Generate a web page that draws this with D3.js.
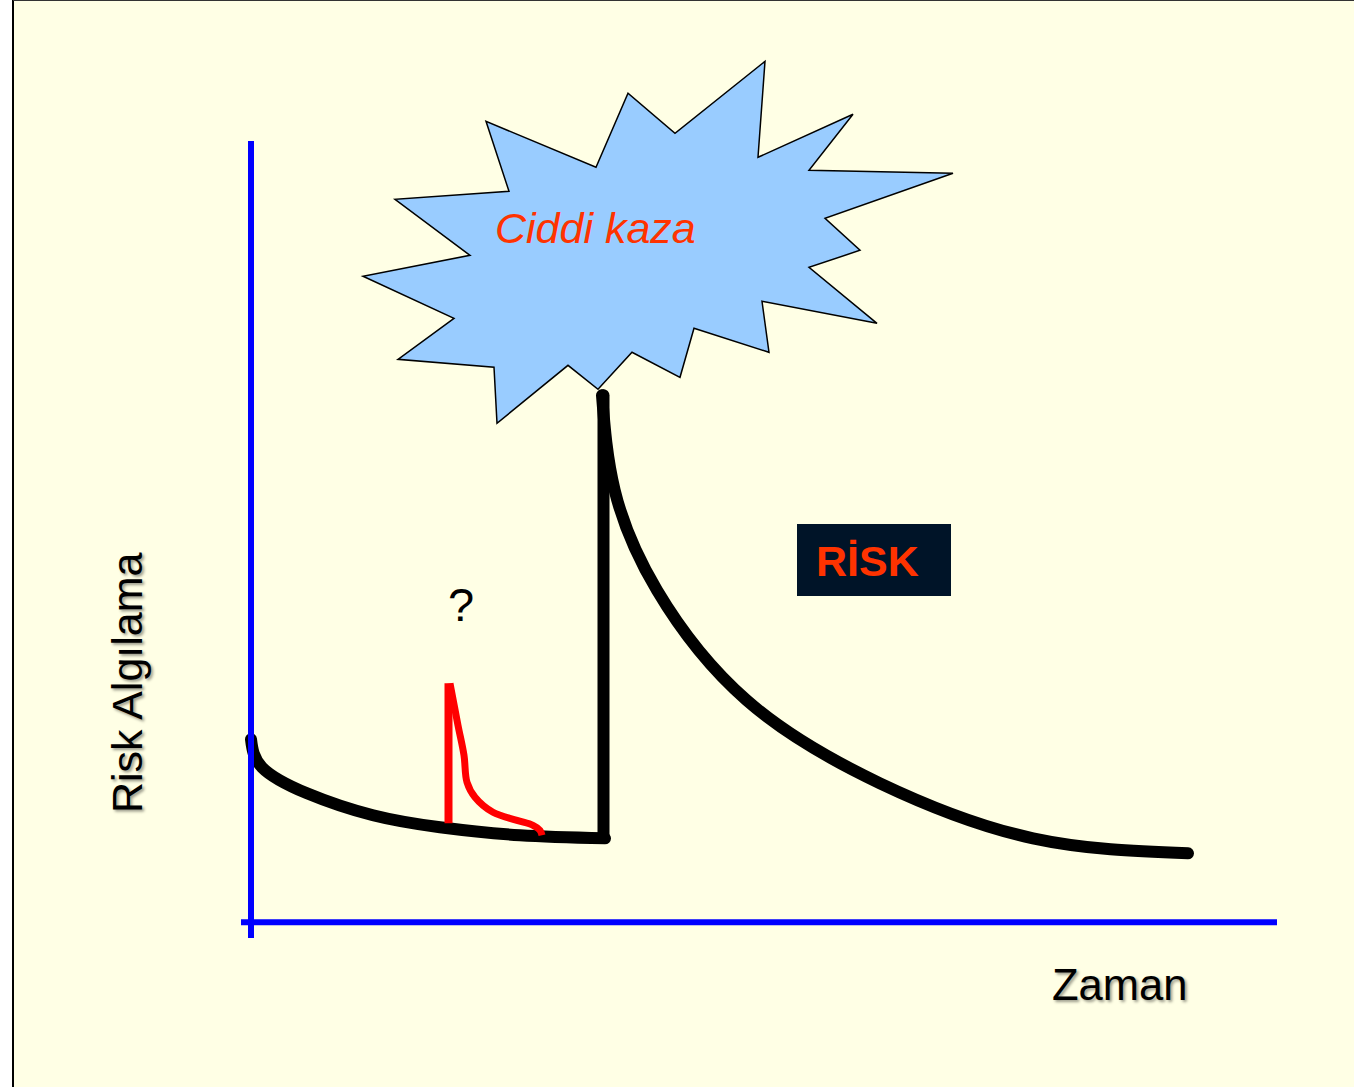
<!DOCTYPE html>
<html>
<head>
<meta charset="utf-8">
<script src="https://cdn.jsdelivr.net/npm/d3@7"></script>
<style>
  html, body { margin: 0; padding: 0; background: #fff; overflow: hidden; }
  text { font-family: "Liberation Sans", Arial, sans-serif; }
</style>
</head>
<body>
<svg id="chart" width="1354" height="1087"></svg>
<script>
// time / risk units (no numeric axis in the original)
const beforeCurve = [[0, 18.3], [1.1, 15.5], [5.6, 12.9], [12.2, 10.7], [18.9, 9.5], [26.9, 8.7], [35.4, 8.4]];
const spikeLine = [[35.25, 8.5], [35.25, 52.7]];
const afterCurve = [[35.1, 52.7], [36.37, 43.2], [40.6, 33.2], [49.57, 22.2], [62.9, 13.9], [78.2, 8.4], [93.7, 6.9]];
const smallRise = [[19.75, 9.9], [19.75, 23.9]];
const smallFall = [[19.9, 23.9], [20.7, 19.7], [21.3, 16.7], [21.6, 14], [22.4, 12.5], [24.2, 11],
  [26.6, 10.2], [28.2, 9.7], [28.9, 9.2], [29.1, 8.7]];
const burst = [[51.4, 86.1], [50.7, 76.5], [60.2, 80.8], [55.8, 75.2], [70.2, 74.9], [57.4, 70.4],
  [60.9, 67.2], [55.8, 65.5], [62.6, 59.9], [51.1, 62.1], [51.8, 57], [44.3, 59.4], [42.9, 54.5],
  [38.1, 57], [34.7, 53.3], [31.7, 55.7], [24.6, 49.9], [24.3, 55.5], [14.7, 56.3], [20.3, 60.4],
  [11.2, 64.6], [21.9, 66.7], [14.4, 72.3], [25.8, 73.1], [23.5, 80.1], [34.5, 75.5], [37.7, 82.9], [42.4, 78.9]];
const labels = { y: 'Risk Algılama', x: 'Zaman', burst: 'Ciddi kaza', box: 'RİSK', question: '?' };

const svg = d3.select('#chart');
const x = d3.scaleLinear().domain([0, 100]).range([251, 1251]);
const y = d3.scaleLinear().domain([0, 100]).range([922.3, -77.7]);

const smooth = d3.line().x(d => x(d[0])).y(d => y(d[1])).curve(d3.curveNatural);
const redCurve = d3.line().x(d => x(d[0])).y(d => y(d[1])).curve(d3.curveCatmullRom.alpha(0.5));
const straight = d3.line().x(d => x(d[0])).y(d => y(d[1]));

// slide background
svg.append('rect').attr('x', 13).attr('y', 0).attr('width', 1341).attr('height', 1087).attr('fill', '#ffffe5');
svg.append('line').attr('x1', 13).attr('x2', 13).attr('y1', 0).attr('y2', 1087).attr('stroke', '#000').attr('stroke-width', 2);
svg.append('line').attr('x1', 13).attr('x2', 1354).attr('y1', 0.5).attr('y2', 0.5).attr('stroke', '#333').attr('stroke-width', 1);

// burst
svg.append('path')
  .attr('d', straight(burst) + 'Z')
  .attr('fill', '#99ccff')
  .attr('stroke', '#000')
  .attr('stroke-width', 1.5)
  .attr('stroke-linejoin', 'miter');

svg.append('text')
  .attr('x', 495).attr('y', 243)
  .attr('fill', '#ff3300').attr('font-size', 43).attr('font-style', 'italic')
  .text(labels.burst);

// black perception curves
function blackLine(data, gen, w) {
  svg.append('path')
    .attr('d', gen(data))
    .attr('fill', 'none')
    .attr('stroke', '#000')
    .attr('stroke-width', w)
    .attr('stroke-linecap', 'round')
    .attr('stroke-linejoin', 'round');
}
blackLine(beforeCurve, smooth, 12);
blackLine(afterCurve, smooth, 12);
blackLine(spikeLine, straight, 12);

// red small peak
svg.append('path').attr('d', straight(smallRise))
  .attr('fill', 'none').attr('stroke', '#ff0000').attr('stroke-width', 8);
svg.append('path').attr('d', redCurve(smallFall))
  .attr('fill', 'none').attr('stroke', '#ff0000').attr('stroke-width', 7);

// axes
svg.append('line').attr('x1', x(0)).attr('x2', x(0)).attr('y1', 141).attr('y2', 938)
  .attr('stroke', '#0000ff').attr('stroke-width', 6);
svg.append('line').attr('x1', 241).attr('x2', 1277).attr('y1', y(0)).attr('y2', y(0))
  .attr('stroke', '#0000ff').attr('stroke-width', 6);

// axis titles with soft shadow
svg.append('text')
  .attr('transform', 'translate(142,813) rotate(-90)')
  .attr('font-size', 43)
  .style('text-shadow', '-2px 2px 3px rgba(0,0,0,0.4)')
  .text(labels.y);
svg.append('text')
  .attr('x', 1052).attr('y', 1000)
  .attr('font-size', 43.5)
  .style('text-shadow', '2px 2px 3px rgba(0,0,0,0.4)')
  .text(labels.x);

svg.append('text')
  .attr('x', 448).attr('y', 621)
  .attr('font-size', 47)
  .text(labels.question);

// RISK box
svg.append('rect').attr('x', 797).attr('y', 524).attr('width', 154).attr('height', 72).attr('fill', '#001428');
svg.append('text')
  .attr('x', 816).attr('y', 576)
  .attr('fill', '#ff3300').attr('font-size', 43).attr('font-weight', 'bold')
  .text(labels.box);
</script>
</body>
</html>
